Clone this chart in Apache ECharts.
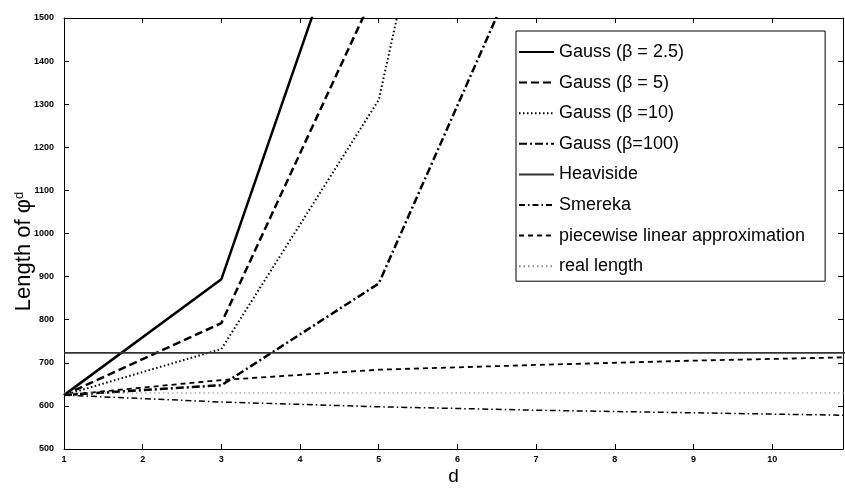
<!DOCTYPE html>
<html>
<head>
<meta charset="utf-8">
<script src="https://cdn.jsdelivr.net/npm/echarts@6/dist/echarts.min.js"></script>
<style>
  html, body { margin: 0; padding: 0; background: #fff; }
  #chartLength { width: 845px; height: 490px; }
</style>
</head>
<body>
<div id="chartLength"></div>
<script>
// d values where each length was computed
var dValues = [1, 3, 5, 7, 9, 11];

// lengths of phi^d (values above 1500 leave the plot)
var gauss25 = [625, 894, 1950, null, null, null];
var gauss5 = [625, 792, 1580, null, null, null];
var gauss10 = [625, 732, 1310, 2960, null, null];
var gauss100 = [625, 648, 884, 1710, null, null];
var heaviside = [723, 723, 723, 723, 723, 723];
var smereka = [625, 609, 598, 590, 584, 578];
var piecewise = [625, 660, 684, 695, 705, 713];
var realLength = [630, 630, 630, 630, 630, 630];

var seriesNames = [
  'Gauss (β = 2.5)',
  'Gauss (β = 5)',
  'Gauss (β =10)',
  'Gauss (β=100)',
  'Heaviside',
  'Smereka',
  'piecewise linear approximation',
  'real length'
];

var xTicks = [1, 2, 3, 4, 5, 6, 7, 8, 9, 10];
var yTicks = [500, 600, 700, 800, 900, 1000, 1100, 1200, 1300, 1400, 1500];

function pairs(values) {
  var out = [];
  for (var i = 0; i < dValues.length; i++) {
    out.push([dValues[i], values[i]]);
  }
  return out;
}

function makeLine(name, values, width, type, color) {
  return {
    name: name,
    type: 'line',
    data: pairs(values),
    symbol: 'none',
    clip: true,
    connectNulls: false,
    animation: false,
    lineStyle: {
      width: width,
      type: type,
      color: color
    },
    itemStyle: {
      color: color
    }
  };
}

var axisFont = 'Liberation Sans, Arial, sans-serif';

var option = {
  backgroundColor: '#fff',
  grid: {
    left: 64,
    right: 2,
    top: 18,
    bottom: 41,
    outerBoundsMode: 'none'
  },
  legend: {
    data: seriesNames,
    orient: 'vertical',
    left: 516,
    top: 31,
    itemWidth: 35,
    itemHeight: 18,
    itemGap: 12.6,
    padding: [12, 20, 6, 2],
    borderColor: '#000',
    borderWidth: 1,
    backgroundColor: '#fff',
    selectedMode: false,
    // only the line sample, no marker dot
    itemStyle: { opacity: 0 },
    textStyle: {
      color: '#000',
      fontSize: 18,
      fontFamily: axisFont
    }
  },
  xAxis: [
    {
      type: 'value',
      min: 1,
      max: 10.9,
      interval: 1,
      name: 'd',
      nameLocation: 'middle',
      nameGap: 18,
      nameMoveOverlap: false,
      nameTextStyle: {
        color: '#000',
        fontSize: 19,
        fontFamily: axisFont
      },
      axisLine: { lineStyle: { color: '#000', width: 1 } },
      axisTick: { inside: true, length: 5, lineStyle: { color: '#000' } },
      axisLabel: {
        color: '#000',
        fontSize: 9,
        fontWeight: 'bold',
        fontFamily: axisFont,
        margin: 6,
        formatter: function(val) {
          return xTicks.indexOf(val) >= 0 ? String(val) : '';
        }
      },
      splitLine: { show: false }
    },
    {
      type: 'value',
      position: 'top',
      min: 1,
      max: 10.9,
      interval: 1,
      axisLine: { show: true, lineStyle: { color: '#000', width: 1 } },
      axisTick: { show: true, inside: true, length: 5, lineStyle: { color: '#000' } },
      axisLabel: { show: false },
      splitLine: { show: false }
    }
  ],
  yAxis: [
    {
      type: 'value',
      min: 500,
      max: 1500,
      interval: 100,
      name: 'Length of φ{sup|d}',
      nameLocation: 'middle',
      nameGap: 29,
      nameMoveOverlap: false,
      nameTextStyle: {
        color: '#000',
        fontSize: 22,
        fontFamily: axisFont,
        padding: [0, 36, 0, 0],
        rich: {
          sup: {
            fontSize: 13,
            fontFamily: axisFont,
            color: '#000',
            verticalAlign: 'top'
          }
        }
      },
      axisLine: { lineStyle: { color: '#000', width: 1 } },
      axisTick: { inside: true, length: 5, lineStyle: { color: '#000' } },
      axisLabel: {
        color: '#000',
        fontSize: 9,
        fontWeight: 'bold',
        fontFamily: axisFont,
        margin: 10,
        formatter: function(val) {
          return yTicks.indexOf(val) >= 0 ? String(val) : '';
        }
      },
      splitLine: { show: false }
    },
    {
      type: 'value',
      position: 'right',
      min: 500,
      max: 1500,
      interval: 100,
      axisLine: { show: true, lineStyle: { color: '#000', width: 1 } },
      axisTick: { show: true, inside: true, length: 5, lineStyle: { color: '#000' } },
      axisLabel: { show: false },
      splitLine: { show: false }
    }
  ],
  series: [
    makeLine(seriesNames[0], gauss25, 2.5, 'solid', '#000'),
    makeLine(seriesNames[1], gauss5, 2.5, [8, 4], '#000'),
    makeLine(seriesNames[2], gauss10, 2, [1.5, 2.5], '#000'),
    makeLine(seriesNames[3], gauss100, 2.5, [8, 3, 2, 3], '#000'),
    makeLine(seriesNames[4], heaviside, 1.6, 'solid', '#333'),
    makeLine(seriesNames[5], smereka, 1.5, [6, 3, 1.5, 3], '#000'),
    makeLine(seriesNames[6], piecewise, 1.8, [5, 4], '#000'),
    makeLine(seriesNames[7], realLength, 1, [1.5, 3], '#888')
  ]
};

var chartLength = echarts.init(document.getElementById('chartLength'));
chartLength.setOption(option);

window.addEventListener('resize', () => {
  chartLength.resize();
});
</script>
</body>
</html>
